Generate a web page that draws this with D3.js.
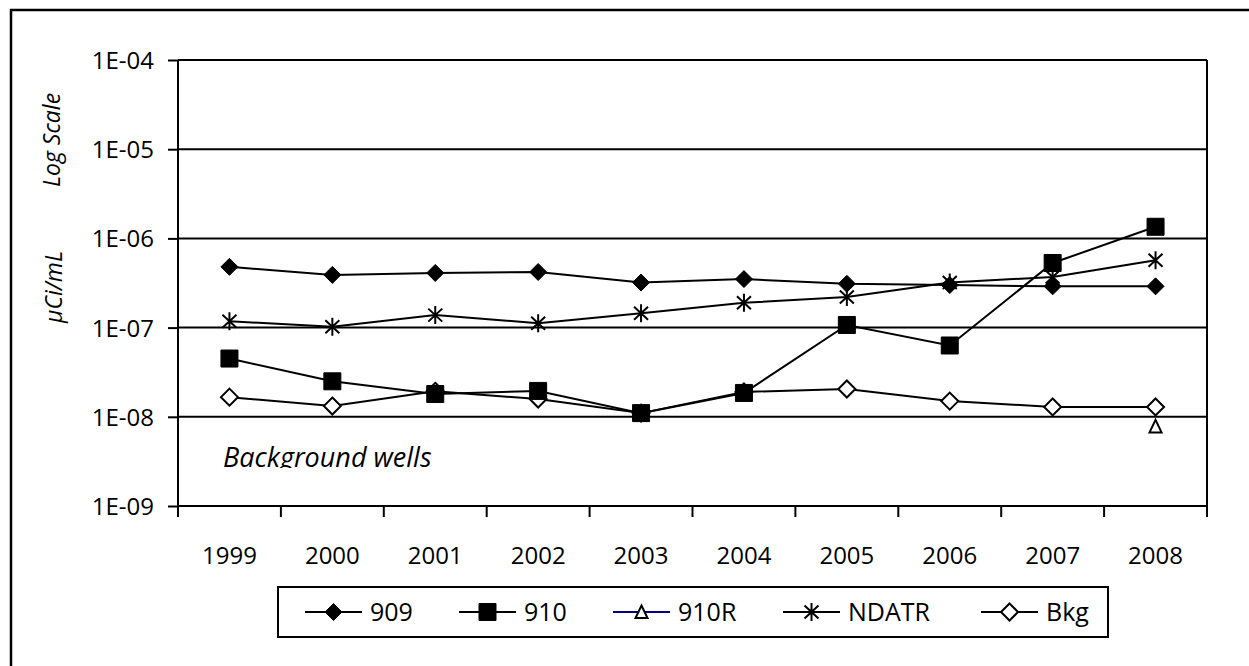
<!DOCTYPE html>
<html>
<head>
<meta charset="utf-8">
<script src="https://cdn.jsdelivr.net/npm/d3@7"></script>
<style>
    body { margin: 0; background: #fff; }
    text { font-family: "Open Sans", sans-serif; fill: #000; }
</style>
</head>
<body>
<div id="d3"></div>
<script>

// chart data
const years = ["1999", "2000", "2001", "2002", "2003", "2004", "2005", "2006", "2007", "2008"];
const s909 = [4.8e-7, 3.9e-7, 4.1e-7, 4.2e-7, 3.2e-7, 3.5e-7, 3.1e-7, 3.0e-7, 2.9e-7, 2.9e-7];
const s910 = [4.5e-8, 2.5e-8, 1.8e-8, 1.95e-8, 1.1e-8, 1.85e-8, 1.07e-7, 6.3e-8, 5.3e-7, 1.35e-6];
const s910R = [null, null, null, null, null, null, null, null, null, 7.8e-9];
const sNDATR = [1.18e-7, 1.02e-7, 1.38e-7, 1.12e-7, 1.45e-7, 1.9e-7, 2.2e-7, 3.2e-7, 3.7e-7, 5.7e-7];
const sBkg = [1.66e-8, 1.32e-8, 1.93e-8, 1.58e-8, 1.1e-8, 1.9e-8, 2.05e-8, 1.5e-8, 1.29e-8, 1.29e-8];
const yTicks = [1e-9, 1e-8, 1e-7, 1e-6, 1e-5, 1e-4];
const legendNames = ["909", "910", "910R", "NDATR", "Bkg"];

const W = 1249, H = 666;
const plot = { left: 178, right: 1207, top: 60, bottom: 506 };

// marker shapes, centred on 0,0
function markerPath(kind) {
    if (kind == "diamond" || kind == "hdiamond") return "M0,-8.5L8.5,0L0,8.5L-8.5,0Z";
    if (kind == "square") return "M-8.5,-8.5H8.5V8.5H-8.5Z";
    if (kind == "triangle") return "M0,-6.5L6,6L-6,6Z";
    if (kind == "star") return "M0,-9V9M-7,-6.5L7,6.5M-7,6.5L7,-6.5";
    return "";
}

function addMarker(g, kind, x, y) {
    const filled = kind == "diamond" || kind == "square";
    g.append("path")
        .attr("d", markerPath(kind))
        .attr("transform", `translate(${x},${y})`)
        .style("fill", filled ? "#000" : (kind == "star" ? "none" : "#fff"))
        .style("stroke", "#000")
        .style("stroke-width", kind == "star" ? 2 : (filled ? 1 : 2));
}

function drawSVG() {
    const svg = d3.select("#d3")
        .append("svg")
        .attr("width", W)
        .attr("height", H);

    // outer chart frame (runs off the right and bottom)
    svg.append("rect")
        .attr("x", 11).attr("y", 10)
        .attr("width", 1400).attr("height", 800)
        .style("fill", "none")
        .style("stroke", "#000")
        .style("stroke-width", 2.5);

    const x = d3.scaleBand()
        .domain(years)
        .range([plot.left, plot.right])
        .padding(0);

    const y = d3.scaleLog()
        .domain([1e-9, 1e-4])
        .range([plot.bottom, plot.top]);

    const fmt = d => "1E-" + String(-Math.round(Math.log10(d))).padStart(2, "0");

    // gridlines
    svg.append("g")
        .selectAll("line")
        .data(yTicks)
        .join("line")
        .attr("x1", plot.left).attr("x2", plot.right)
        .attr("y1", d => y(d)).attr("y2", d => y(d))
        .style("stroke", "#000")
        .style("stroke-width", 2);

    // right border of plot area
    svg.append("line")
        .attr("x1", plot.right).attr("x2", plot.right)
        .attr("y1", plot.top).attr("y2", plot.bottom)
        .style("stroke", "#000")
        .style("stroke-width", 2);

    // y axis
    const yAxis = svg.append("g")
        .attr("transform", `translate(${plot.left},0)`)
        .call(d3.axisLeft(y).tickValues(yTicks).tickFormat(fmt).tickSizeInner(10).tickSizeOuter(0).tickPadding(14));
    yAxis.select(".domain").remove();
    yAxis.selectAll("line").style("stroke", "#000").style("stroke-width", 2);
    yAxis.selectAll("text").style("font-size", "24px").attr("dy", "0.35em");

    svg.append("line")
        .attr("x1", plot.left).attr("x2", plot.left)
        .attr("y1", plot.top).attr("y2", plot.bottom + 11)
        .style("stroke", "#000")
        .style("stroke-width", 2);

    // x axis: ticks sit between the categories
    const xAxis = svg.append("g")
        .attr("transform", `translate(0,${plot.bottom})`)
        .call(d3.axisBottom(x).tickSize(0).tickPadding(50));
    xAxis.select(".domain").remove();
    xAxis.selectAll("text").style("font-size", "24px").attr("dy", "0.35em");

    svg.append("line")
        .attr("x1", plot.left).attr("x2", plot.right)
        .attr("y1", plot.bottom).attr("y2", plot.bottom)
        .style("stroke", "#000")
        .style("stroke-width", 2);

    svg.append("g")
        .selectAll("line")
        .data(years.slice(1).concat(["end"]))
        .join("line")
        .attr("x1", d => d == "end" ? plot.right : x(d))
        .attr("x2", d => d == "end" ? plot.right : x(d))
        .attr("y1", plot.bottom).attr("y2", plot.bottom + 11)
        .style("stroke", "#000")
        .style("stroke-width", 2);

    // axis title, two italic pieces
    svg.append("text")
        .attr("transform", "translate(60,140) rotate(-90)")
        .attr("text-anchor", "middle")
        .style("font-style", "italic")
        .style("font-size", "23px")
        .text("Log Scale");
    svg.append("text")
        .attr("transform", "translate(62,287) rotate(-90)")
        .attr("text-anchor", "middle")
        .style("font-style", "italic")
        .style("font-size", "23px")
        .text("μCi/mL");

    // note, bottom of it is cut off in the original
    svg.append("clipPath").attr("id", "noteclip")
        .append("rect").attr("x", 180).attr("y", 420).attr("width", 400).attr("height", 48);
    svg.append("text")
        .attr("x", 223).attr("y", 467)
        .attr("clip-path", "url(#noteclip)")
        .style("font-style", "italic")
        .style("font-size", "27px")
        .text("Background wells");

    // series, in stacking order
    const cx = d => x(d) + x.bandwidth() / 2;
    const series = [
        { values: sBkg, kind: "hdiamond", color: "#000" },
        { values: s909, kind: "diamond", color: "#000" },
        { values: sNDATR, kind: "star", color: "#000" },
        { values: s910R, kind: "triangle", color: "#000080" },
        { values: s910, kind: "square", color: "#000" }
    ];

    const line = d3.line()
        .defined(d => d.v != null)
        .x(d => cx(d.year))
        .y(d => y(d.v));

    series.forEach(s => {
        const pts = years.map((yr, i) => ({ year: yr, v: s.values[i] }));
        const g = svg.append("g");
        g.append("path")
            .datum(pts)
            .attr("d", line)
            .style("fill", "none")
            .style("stroke", s.color)
            .style("stroke-width", 2);
        pts.filter(p => p.v != null).forEach(p => addMarker(g, s.kind, cx(p.year), y(p.v)));
    });

    // legend
    const legend = svg.append("g");
    legend.append("rect")
        .attr("x", 278).attr("y", 587)
        .attr("width", 830).attr("height", 50)
        .style("fill", "#fff")
        .style("stroke", "#000")
        .style("stroke-width", 2);

    const legendKinds = ["diamond", "square", "triangle", "star", "hdiamond"];
    const legendColors = ["#000", "#000", "#000080", "#000", "#000"];
    const legendX = [305, 459, 613, 783, 981];
    legendNames.forEach((name, i) => {
        const lx = legendX[i], ly = 612;
        legend.append("line")
            .attr("x1", lx).attr("x2", lx + 57)
            .attr("y1", ly).attr("y2", ly)
            .style("stroke", legendColors[i])
            .style("stroke-width", 2);
        addMarker(legend, legendKinds[i], lx + 28.5, ly);
        legend.append("text")
            .attr("x", lx + 65).attr("y", ly)
            .attr("dy", "0.35em")
            .style("font-size", "25px")
            .text(name);
    });
}

drawSVG();
</script>
</body>
</html>
